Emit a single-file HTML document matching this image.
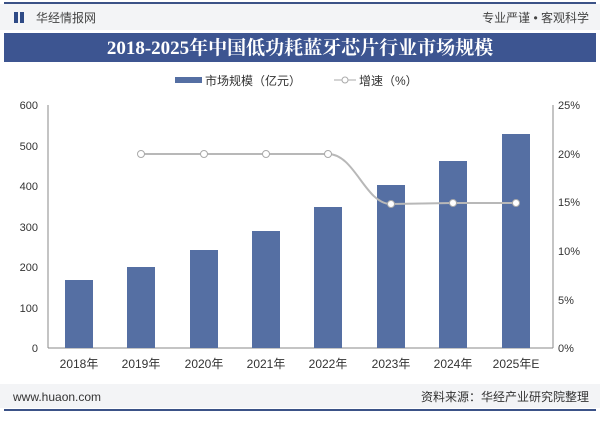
<!DOCTYPE html>
<html><head><meta charset="utf-8"><style>
body{margin:0;width:600px;height:416px;background:#fff;font-family:"Liberation Sans","Noto Sans CJK SC",sans-serif;overflow:hidden}
</style></head><body>
<svg width="600" height="416" xmlns="http://www.w3.org/2000/svg" font-family="Liberation Sans, Noto Sans CJK SC, sans-serif">
<rect x="0" y="0" width="600" height="416" fill="#fff"/>
<rect x="0" y="4" width="600" height="26" fill="#f3f4f6"/>
<rect x="4" y="2" width="592" height="2" fill="#3b5287"/>
<rect x="14" y="12" width="4" height="11" fill="#2f4a86"/><rect x="20" y="12" width="4" height="11" fill="#2f4a86"/>
<text x="36" y="22" font-size="12" fill="#444">华经情报网</text>
<text x="589" y="22" font-size="12" fill="#444" text-anchor="end">专业严谨 • 客观科学</text>
<rect x="4" y="33" width="592" height="29" fill="#3d5591"/>
<text x="300" y="54" font-size="19" font-weight="bold" fill="#fff" text-anchor="middle" font-family="Liberation Serif, Noto Serif CJK SC, serif">2018-2025年中国低功耗蓝牙芯片行业市场规模</text>
<rect x="175" y="77" width="27" height="6" fill="#556fa3"/>
<text x="205" y="85" font-size="12" fill="#333">市场规模（亿元）</text>
<line x1="334" y1="80" x2="356" y2="80" stroke="#aaa"/><circle cx="345" cy="80" r="3" fill="#fff" stroke="#aaa"/>
<text x="359" y="85" font-size="12" fill="#333">增速（%）</text>
<g font-size="11" fill="#333">
<text x="38" y="109" text-anchor="end">600</text>
<text x="38" y="150" text-anchor="end">500</text>
<text x="38" y="190" text-anchor="end">400</text>
<text x="38" y="231" text-anchor="end">300</text>
<text x="38" y="271" text-anchor="end">200</text>
<text x="38" y="312" text-anchor="end">100</text>
<text x="38" y="352" text-anchor="end">0</text>
<text x="558" y="109">25%</text>
<text x="558" y="158">20%</text>
<text x="558" y="206">15%</text>
<text x="558" y="255">10%</text>
<text x="558" y="304">5%</text>
<text x="558" y="352">0%</text>
</g>
<line x1="48" y1="105" x2="48" y2="348" stroke="#888"/>
<line x1="553" y1="105" x2="553" y2="348" stroke="#888"/>
<line x1="48" y1="348" x2="553" y2="348" stroke="#888"/>
<g fill="#556fa3">
<rect x="65" y="280" width="28" height="68"/>
<rect x="127" y="267" width="28" height="81"/>
<rect x="190" y="250" width="28" height="98"/>
<rect x="252" y="231" width="28" height="117"/>
<rect x="314" y="207" width="28" height="141"/>
<rect x="377" y="185" width="28" height="163"/>
<rect x="439" y="161" width="28" height="187"/>
<rect x="502" y="134" width="28" height="214"/>
</g>
<path d="M141,154 L204,154 L266,154 L328,154 C355,154 365,204 391,204 L453,203 L516,203" fill="none" stroke="#b8b8b8" stroke-width="2"/>
<g fill="#fff" stroke="#aaa"><circle cx="141" cy="154" r="3.5"/><circle cx="204" cy="154" r="3.5"/><circle cx="266" cy="154" r="3.5"/><circle cx="328" cy="154" r="3.5"/><circle cx="391" cy="204" r="3.5"/><circle cx="453" cy="203" r="3.5"/><circle cx="516" cy="203" r="3.5"/></g>
<g font-size="12" fill="#333" text-anchor="middle">
<text x="79" y="368">2018年</text><text x="141" y="368">2019年</text><text x="204" y="368">2020年</text><text x="266" y="368">2021年</text><text x="328" y="368">2022年</text><text x="391" y="368">2023年</text><text x="453" y="368">2024年</text><text x="516" y="368">2025年E</text>
</g>
<rect x="0" y="384" width="600" height="24" fill="#f3f4f6"/>
<text x="13" y="401" font-size="12" fill="#333">www.huaon.com</text>
<text x="589" y="401" font-size="12" fill="#333" text-anchor="end">资料来源：华经产业研究院整理</text>
<rect x="4" y="409" width="592" height="2" fill="#3b5287"/>
</svg>
</body></html>
